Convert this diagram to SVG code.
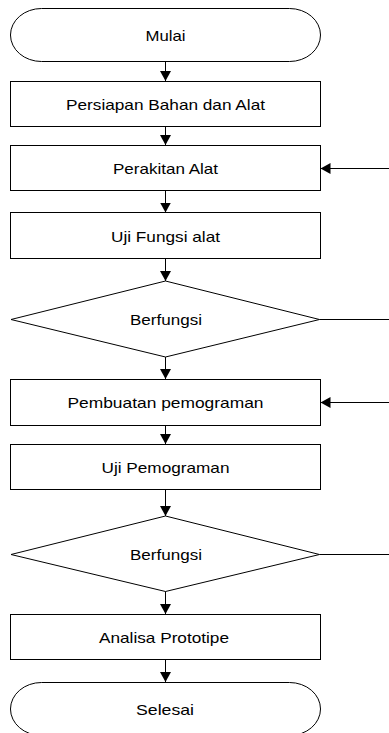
<svg xmlns="http://www.w3.org/2000/svg" width="389" height="733" viewBox="0 0 389 733">
<defs>
<style>
.n{fill:#fff;stroke:#000;stroke-width:1}
.t{font-family:"Liberation Sans",Arial,sans-serif;font-size:15px;fill:#000;text-anchor:middle}
.c{fill:none;stroke:#000;stroke-width:1}
</style>
<marker id="ah" markerUnits="userSpaceOnUse" markerWidth="10" markerHeight="11" refX="10" refY="5.5" orient="auto" viewBox="0 0 10 11">
<path d="M0,0 L10,5.5 L0,11 z" fill="#000"/>
</marker>
</defs>
<rect width="389" height="733" fill="#fff"/>
<g id="connectors">
<path class="c" marker-end="url(#ah)" d="M165.5,62 L165.5,81"/>
<path class="c" marker-end="url(#ah)" d="M165.5,126 L165.5,145"/>
<path class="c" marker-end="url(#ah)" d="M165.5,190 L165.5,212.5"/>
<path class="c" marker-end="url(#ah)" d="M165.5,259 L165.5,281"/>
<path class="c" marker-end="url(#ah)" d="M165.5,357 L165.5,379"/>
<path class="c" marker-end="url(#ah)" d="M165.5,425 L165.5,444"/>
<path class="c" marker-end="url(#ah)" d="M165.5,489 L165.5,516"/>
<path class="c" marker-end="url(#ah)" d="M165.5,591 L165.5,614"/>
<path class="c" marker-end="url(#ah)" d="M165.5,659 L165.5,682"/>
<path class="c" marker-end="url(#ah)" d="M389,168.5 L320.5,168.5"/>
<path class="c" d="M319.5,319.5 L389,319.5"/>
<path class="c" marker-end="url(#ah)" d="M389,402.5 L320.5,402.5"/>
<path class="c" d="M319.5,554.5 L389,554.5"/>
</g>
<g id="mulai">
<path class="n" d="M41.5,8.5 L289.5,8.5 A31,26.5 0 0 1 289.5,61.5 L41.5,61.5 A31,26.5 0 0 1 41.5,8.5 z"/>
<text class="t" x="165.5" y="40.8" textLength="40" lengthAdjust="spacingAndGlyphs">Mulai</text>
</g>
<g id="persiapan">
<rect class="n" x="10.5" y="81.5" width="310" height="45"/>
<text class="t" x="165.5" y="109.5" textLength="199" lengthAdjust="spacingAndGlyphs">Persiapan Bahan dan Alat</text>
</g>
<g id="perakitan">
<rect class="n" x="10.5" y="145.5" width="310" height="45"/>
<text class="t" x="165.5" y="173.8" textLength="105" lengthAdjust="spacingAndGlyphs">Perakitan Alat</text>
</g>
<g id="uji-fungsi">
<rect class="n" x="10.5" y="212.5" width="310" height="46"/>
<text class="t" x="165.5" y="241.5" textLength="109" lengthAdjust="spacingAndGlyphs">Uji Fungsi alat</text>
</g>
<g id="berfungsi1">
<polygon class="n" points="165.5,281 319.5,319.5 165.5,357 11,319.5"/>
<text class="t" x="166" y="325" textLength="72" lengthAdjust="spacingAndGlyphs">Berfungsi</text>
</g>
<g id="pembuatan">
<rect class="n" x="10.5" y="379.5" width="310" height="46"/>
<text class="t" x="165.5" y="408.3" textLength="196" lengthAdjust="spacingAndGlyphs">Pembuatan pemograman</text>
</g>
<g id="uji-pemograman">
<rect class="n" x="10.5" y="444.5" width="310" height="45"/>
<text class="t" x="165.5" y="472.8" textLength="128" lengthAdjust="spacingAndGlyphs">Uji Pemograman</text>
</g>
<g id="berfungsi2">
<polygon class="n" points="165.5,516 319.5,554.5 165.5,591.5 11,554.5"/>
<text class="t" x="166" y="560" textLength="72" lengthAdjust="spacingAndGlyphs">Berfungsi</text>
</g>
<g id="analisa">
<rect class="n" x="10.5" y="614.5" width="310" height="45"/>
<text class="t" x="164" y="642.8" textLength="130" lengthAdjust="spacingAndGlyphs">Analisa Prototipe</text>
</g>
<g id="selesai">
<path class="n" d="M41.5,682.5 L289.5,682.5 A31,26.5 0 0 1 289.5,735.5 L41.5,735.5 A31,26.5 0 0 1 41.5,682.5 z"/>
<text class="t" x="165" y="715" textLength="58" lengthAdjust="spacingAndGlyphs">Selesai</text>
</g>
</svg>
